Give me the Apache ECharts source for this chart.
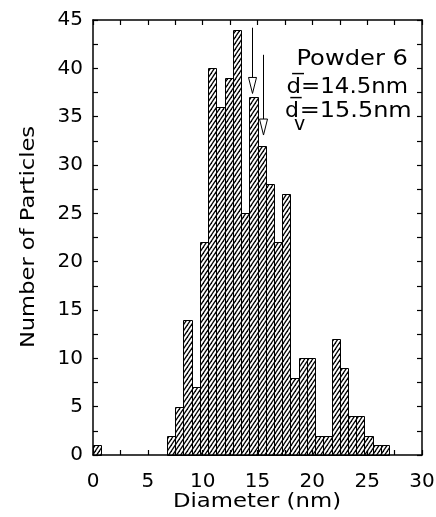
<!DOCTYPE html>
<html><head><meta charset="utf-8">
<script src="https://cdn.jsdelivr.net/npm/echarts@6/dist/echarts.min.js"></script>
<style>html,body{margin:0;padding:0;background:#fff}#c{width:436px;height:517px}</style>
</head><body><div id="c"></div>
<script>
// ---- data ----
const binWidth = 0.75; // nm per histogram bin, bins start at 0
const counts = [1,0,0,0,0,0,0,0,0,2,5,14,7,22,40,36,39,44,25,37,32,28,22,27,8,10,10,2,2,12,9,4,4,2,1,1];
const xTickLabels = [0,5,10,15,20,25,30];
const yTickLabels = [0,5,10,15,20,25,30,35,40,45];
const arrowX = [14.5, 15.5];      // mean diameters marked by arrows
const arrowTop = [44.2, 41.4];
const arrowTip = [37.4, 33.1];
const xTitle = 'Diameter (nm)';
const yTitle = 'Number of Particles';
const sampleLabel = 'Powder 6';
const meanLabel = 'd\u0305=14.5nm';
const volMeanD = 'd\u0305';
const volMeanSub = 'v';
const volMeanValue = '=15.5nm';

// ---- hatch pattern ----
function hatch(){
  const w=4,h=6;
  const c=document.createElement('canvas'); c.width=w; c.height=h;
  const g=c.getContext('2d'); g.strokeStyle='#000'; g.lineWidth=1.25;
  for(let k=-1;k<=1;k++){ g.beginPath(); g.moveTo(-w,h*(2+k)); g.lineTo(2*w,h*(k-1)); g.stroke(); }
  return c;
}
const pat = {image: hatch(), repeat: 'repeat'};

const binData = counts.map((c,i)=>[i*binWidth,(i+1)*binWidth,c]).filter(d=>d[2]>0);
const arrowData = arrowX.map((x,i)=>[x,arrowTop[i],arrowTip[i]]);

const FONT = '"DejaVu Sans", sans-serif';
const lineStyle = {color:'#000', width:1.5};
const tickStyle = {color:'#000', width:1.2};
function xAx(pos, labels){
  return {type:'value', min:0, max:30, interval:5, position:pos,
    axisLine:{show:true, onZero:false, lineStyle},
    axisTick:{show:true, inside:true, length:5, lineStyle:tickStyle},
    minorTick:{show:true, splitNumber:2, length:5, lineStyle:tickStyle},
    splitLine:{show:false}, minorSplitLine:{show:false},
    axisLabel:{show:labels, fontSize:20, fontFamily:FONT, color:'#000', margin:17,
      formatter:v=>xTickLabels.includes(v)?String(v):''}};
}
function yAx(pos, labels){
  return {type:'value', min:0, max:45, interval:5, position:pos,
    axisLine:{show:true, onZero:false, lineStyle},
    axisTick:{show:true, inside:true, length:5, lineStyle:tickStyle},
    minorTick:{show:true, splitNumber:2, length:5, lineStyle:tickStyle},
    splitLine:{show:false}, minorSplitLine:{show:false},
    axisLabel:{show:labels, fontSize:20, fontFamily:FONT, color:'#000', margin:10,
      formatter:v=>yTickLabels.includes(v)?String(v):''}};
}

const chart = echarts.init(document.getElementById('c'), null, {renderer:'canvas'});
chart.setOption({
  animation:false,
  backgroundColor:'#fff',
  grid:{left:93, right:14, top:20, bottom:62, containLabel:false, outerBoundsMode:'none'},
  xAxis:[xAx('bottom',true), xAx('top',false)],
  yAxis:[yAx('left',true), yAx('right',false)],
  series:[
    {type:'custom', xAxisIndex:0, yAxisIndex:0, data:binData, clip:false, z:2,
     encode:{x:[0,1], y:2},
     renderItem:(params,api)=>{
       const p0=api.coord([api.value(0),api.value(2)]);
       const p1=api.coord([api.value(1),0]);
       const x0=Math.round(p0[0])+0.5, x1=Math.round(p1[0])+0.5;
       const y0=Math.round(p0[1])+0.5, y1=Math.round(p1[1])+0.5;
       return {type:'rect', shape:{x:x0,y:y0,width:x1-x0,height:y1-y0},
         style:{fill:pat, stroke:'#000', lineWidth:1}};
     }},
    {type:'custom', xAxisIndex:0, yAxisIndex:0, data:arrowData, clip:false, z:3,
     encode:{x:0, y:[1,2]},
     renderItem:(params,api)=>{
       const top=api.coord([api.value(0),api.value(1)]);
       const tip=api.coord([api.value(0),api.value(2)]);
       const hh=16, hw=4; const x=Math.round(top[0])+0.5;
       return {type:'group', children:[
         {type:'line', shape:{x1:x,y1:top[1],x2:x,y2:tip[1]-hh}, style:{stroke:'#000',lineWidth:1}},
         {type:'polygon', shape:{points:[[x-hw,tip[1]-hh],[x+hw,tip[1]-hh],[x,tip[1]]]},
          style:{fill:'#fff',stroke:'#000',lineWidth:1}}
       ]};
     }}
  ],
  graphic:[
    {type:'text', x:257, y:501.7, scaleX:1.14, style:{text:xTitle, fontSize:20, fontFamily:FONT, fill:'#000', align:'center', verticalAlign:'middle'}},
    {type:'text', x:29, y:237, rotation:Math.PI/2, scaleX:1.13, style:{text:yTitle, fontSize:20, fontFamily:FONT, fill:'#000', align:'center', verticalAlign:'middle'}},
    {type:'text', x:408, y:59, scaleX:1.1, style:{text:sampleLabel, fontSize:22, fontFamily:FONT, fill:'#000', align:'right', verticalAlign:'middle'}},
    {type:'text', x:408, y:87.4, scaleX:1.04, style:{text:meanLabel, fontSize:22, fontFamily:FONT, fill:'#000', align:'right', verticalAlign:'middle'}},
    {type:'text', x:285, y:111.4, style:{text:volMeanD, fontSize:22, fontFamily:FONT, fill:'#000', align:'left', verticalAlign:'middle'}},
    {type:'text', x:294, y:125.5, style:{text:volMeanSub, fontSize:19, fontFamily:FONT, fill:'#000', align:'left', verticalAlign:'middle'}},
    {type:'text', x:411.7, y:111.4, scaleX:1.09, style:{text:volMeanValue, fontSize:22, fontFamily:FONT, fill:'#000', align:'right', verticalAlign:'middle'}}
  ]
});
</script></body></html>
